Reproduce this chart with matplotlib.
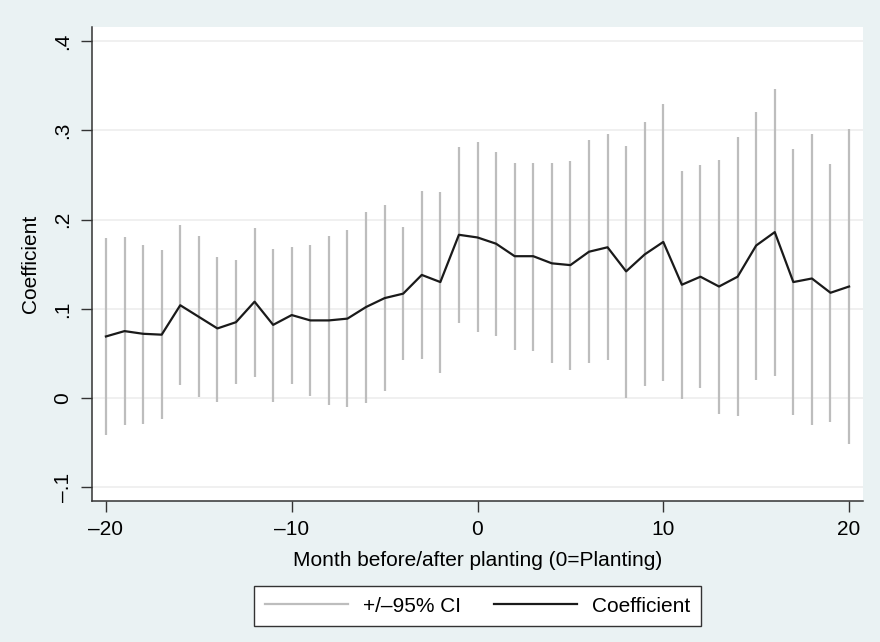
import matplotlib
matplotlib.use("Agg")
import matplotlib.pyplot as plt
from matplotlib.lines import Line2D

plt.rcParams['font.family'] = ['Liberation Sans', 'DejaVu Sans']

months = list(range(-20, 21))
coef = [0.069, 0.075, 0.072, 0.071, 0.104, 0.091, 0.078, 0.085, 0.108, 0.082,
        0.093, 0.087, 0.087, 0.089, 0.102, 0.112, 0.117, 0.138, 0.130, 0.183,
        0.180, 0.173, 0.159, 0.159, 0.151, 0.149, 0.164, 0.169, 0.142, 0.161,
        0.175, 0.127, 0.136, 0.125, 0.136, 0.171, 0.186, 0.130, 0.134, 0.118,
        0.125]
ci_upper = [0.179, 0.180, 0.172, 0.166, 0.194, 0.182, 0.158, 0.155, 0.191, 0.167,
            0.169, 0.171, 0.182, 0.188, 0.209, 0.216, 0.192, 0.232, 0.231, 0.282,
            0.287, 0.276, 0.264, 0.264, 0.263, 0.266, 0.289, 0.296, 0.283, 0.309,
            0.330, 0.255, 0.261, 0.267, 0.293, 0.321, 0.347, 0.279, 0.296, 0.262,
            0.302]
ci_lower = [-0.041, -0.030, -0.029, -0.024, 0.015, 0.001, -0.004, 0.016, 0.024, -0.005,
            0.016, 0.002, -0.008, -0.010, -0.006, 0.008, 0.043, 0.044, 0.028, 0.084,
            0.074, 0.070, 0.054, 0.053, 0.039, 0.031, 0.039, 0.043, 0.000, 0.013,
            0.019, -0.001, 0.011, -0.018, -0.020, 0.020, 0.025, -0.019, -0.030, -0.027,
            -0.052]

yticks = [-0.1, 0.0, 0.1, 0.2, 0.3, 0.4]
ytick_labels = ['\u2013.1', '0', '.1', '.2', '.3', '.4']
xticks = [-20, -10, 0, 10, 20]
xtick_labels = ['\u201320', '\u201310', '0', '10', '20']

bg = '#EAF2F3'
ci_color = '#BDBDBD'
fs = 15

fig = plt.figure(figsize=(8.8, 6.42), dpi=100, facecolor=bg)
ax = fig.add_axes([92/880, 1 - 501/642, (863 - 92)/880, (501 - 27)/642])
ax.set_facecolor('white')

ax.vlines(months, ci_lower, ci_upper, colors=ci_color, linewidth=1.6, zorder=2)
ax.plot(months, coef, color='#1a1a1a', linewidth=1.6, zorder=3)

ax.set_xlim(-20.75, 20.75)
ax.set_ylim(-0.1155, 0.416)

ax.set_yticks(yticks)
ax.set_yticklabels(ytick_labels, rotation=90, va='center', fontsize=fs)
ax.set_xticks(xticks)
ax.set_xticklabels(xtick_labels, fontsize=fs)
ax.tick_params(axis='both', length=8, width=1, color='#333333', pad=6)

ax.grid(axis='y', color='#EEEEEE', linewidth=1.2, zorder=0)
ax.set_axisbelow(True)
for s in ['top', 'right']:
    ax.spines[s].set_visible(False)
for s in ['left', 'bottom']:
    ax.spines[s].set_color('#333333')
    ax.spines[s].set_linewidth(1.1)

ax.set_xlabel('Month before/after planting (0=Planting)', fontsize=fs, labelpad=8)
ax.set_ylabel('Coefficient', fontsize=fs, labelpad=10)

handles = [Line2D([], [], color=ci_color, linewidth=1.6),
           Line2D([], [], color='#1a1a1a', linewidth=1.6)]
leg = fig.legend(handles, ['+/\u201395% CI', 'Coefficient'], ncol=2,
                 loc='center', bbox_to_anchor=(477.5/880, 1 - 606/642),
                 fontsize=fs, frameon=True, fancybox=False, edgecolor='#333333',
                 facecolor='white', framealpha=1, handlelength=4.0,
                 handletextpad=0.7, columnspacing=1.6, borderpad=0.5)
leg.get_frame().set_linewidth(1.0)

fig.savefig('out.png', dpi=100, facecolor=bg)
